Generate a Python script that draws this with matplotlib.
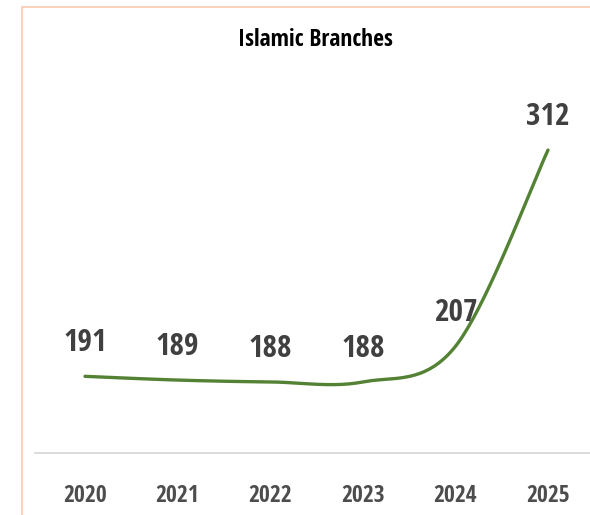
import numpy as np
import matplotlib.pyplot as plt
from matplotlib.patches import Rectangle

years  = ["2020", "2021", "2022", "2023", "2024", "2025"]
values = [191, 189, 188, 188, 207, 312]

LINE_GREEN = "#548235"
LABEL_GRAY = "#404040"
FONT       = ["Open Sans Condensed", "DejaVu Sans"]


def smooth(xs, ys, n=40):
    # excel style smoothing: bezier segments with catmull-rom control points
    pts = np.column_stack([xs, ys]).astype(float)
    p   = np.vstack([pts[0], pts, pts[-1]])
    out = []
    for i in range(1, len(p) - 2):
        p0, p1, p2, p3 = p[i - 1], p[i], p[i + 1], p[i + 2]
        c1 = p1 + (p2 - p0) / 6
        c2 = p2 - (p3 - p1) / 6
        t  = np.linspace(0, 1, n)[:, None]
        seg = ((1 - t) ** 3) * p1 + 3 * ((1 - t) ** 2) * t * c1 \
            + 3 * (1 - t) * t ** 2 * c2 + t ** 3 * p2
        out.append(seg if i == 1 else seg[1:])
    out = np.vstack(out)
    return out[:, 0], out[:, 1]


fig = plt.figure(figsize=(5.9, 5.15), dpi=100)
fig.patches.append(Rectangle((22 / 590, -0.1), 1.2, (515 - 6.5) / 515 + 0.1,
                             transform=fig.transFigure, fill=False,
                             edgecolor="#F8CBAD", linewidth=1.2))

ax = fig.add_axes([35 / 590, 62 / 515, 555 / 590, 374 / 515])
x  = np.arange(len(years))
sx, sy = smooth(x, values)
ax.plot(sx, sy, color=LINE_GREEN, linewidth=2.4, solid_capstyle="round")

for xi, v in zip(x, values):
    ax.annotate(str(v), (xi, v), xytext=(0, 24), textcoords="offset points",
                ha="center", va="center", fontsize=22.5, fontweight="bold",
                color=LABEL_GRAY, family=FONT)

ax.set_xlim((35 - 85) / 92.6, (590 - 85) / 92.6)
ax.set_ylim(150, 350)
ax.set_xticks(x)
ax.set_xticklabels(years, fontsize=17, fontweight="bold", color="#4d4d4d",
                   family=FONT)
ax.tick_params(axis="x", length=0, pad=22)
ax.set_yticks([])
for side in ["top", "right", "left"]:
    ax.spines[side].set_visible(False)
ax.spines["bottom"].set_color("#d9d9d9")
ax.spines["bottom"].set_linewidth(1.3)

fig.text(315 / 590, 1 - 39.5 / 515, "Islamic Branches", ha="center", va="center",
         fontsize=17, fontweight="bold", color="black", family=FONT)

fig.savefig("out.png", dpi=100)
